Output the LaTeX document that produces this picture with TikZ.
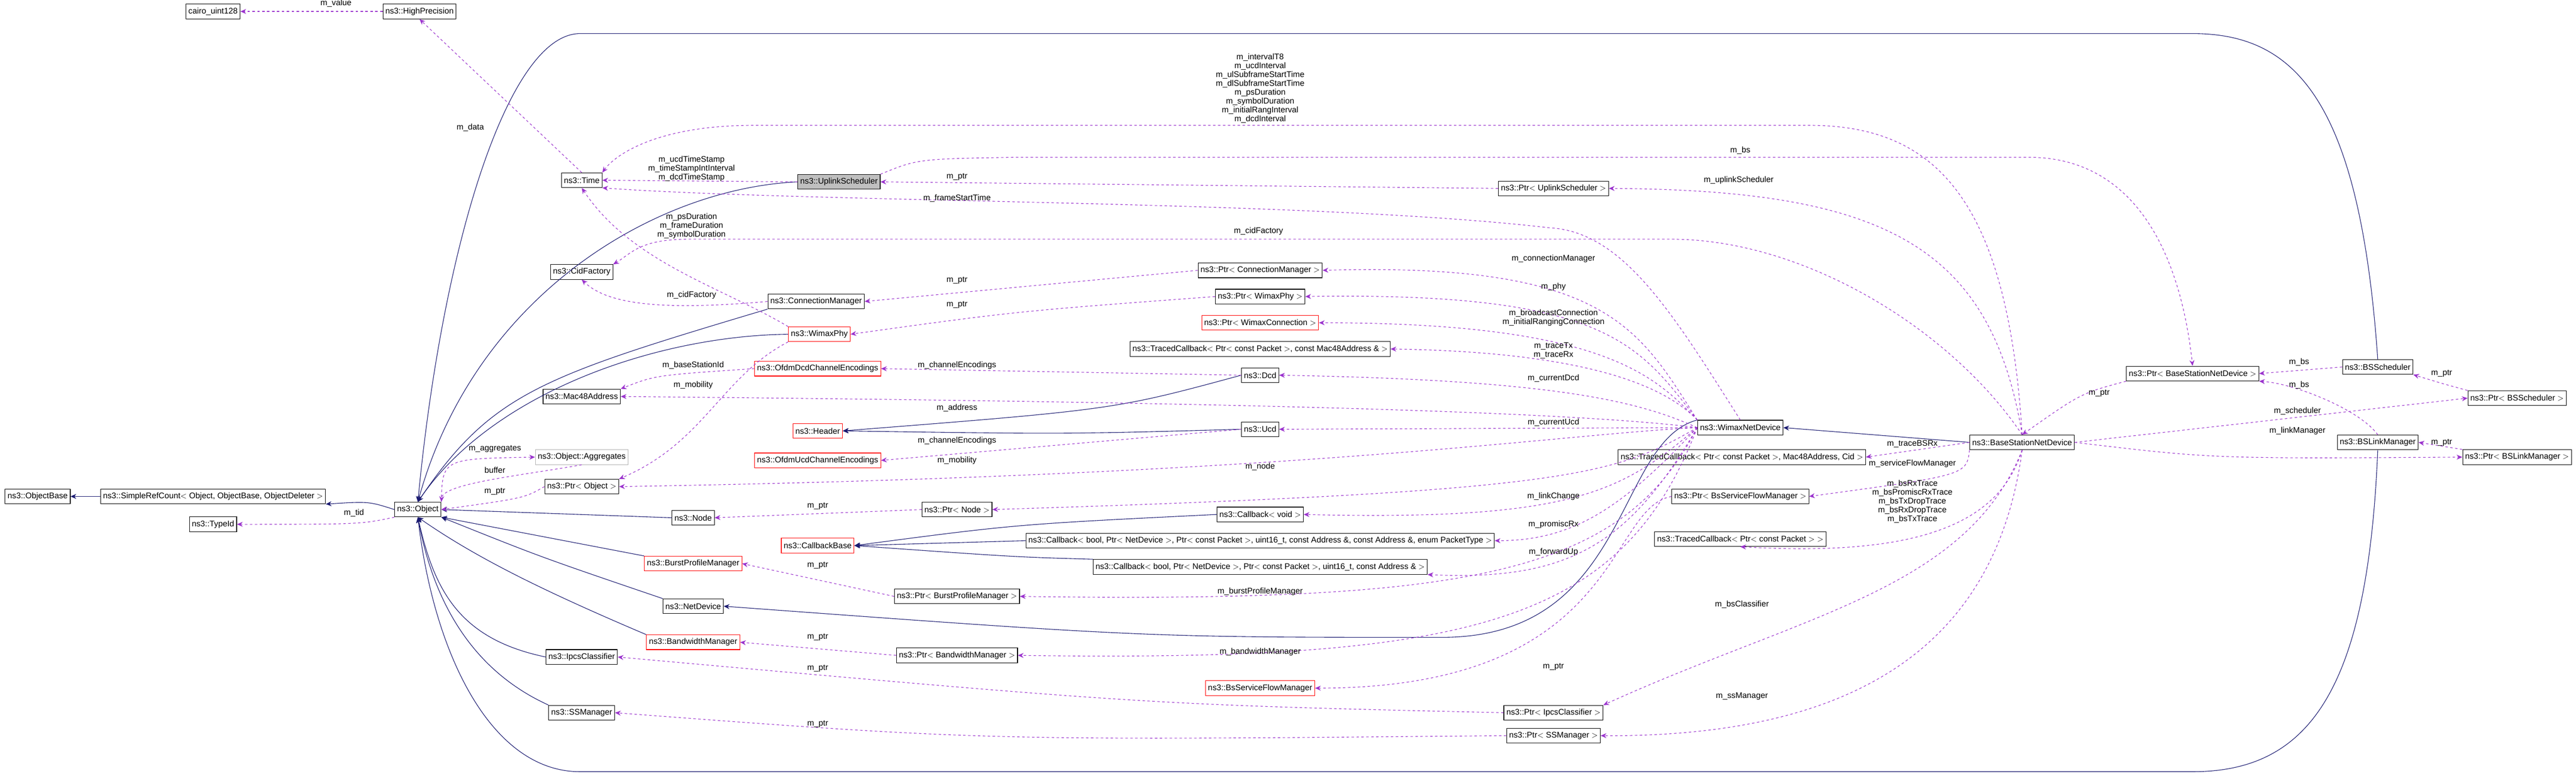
\documentclass[tikz,border=0pt]{standalone}
\usepackage{fontspec}
\setmainfont{Liberation Sans}
\usepackage{tikz}
\usetikzlibrary{arrows.meta}

\definecolor{usecol}{HTML}{9A32CD}
\definecolor{inhcol}{HTML}{191970}

\begin{document}
\begin{tikzpicture}[
    x=2pt, y=-2pt,
    cls/.style={rectangle, draw=black, fill=white, line width=0.7pt, inner xsep=3pt, inner ysep=1pt, minimum height=18pt, font=\fontsize{10}{11}\selectfont},
    clsred/.style={cls, draw=red},
    clsgray/.style={cls, draw=black!30},
    clsmain/.style={cls, fill=black!25},
    lbl/.style={font=\fontsize{10}{10.8}\selectfont, text=black, align=center, inner sep=1pt},
    use/.style={-{Stealth[length=7pt,width=6pt]}, usecol, dashed, line width=0.7pt},
    inh/.style={-{Stealth[length=7pt,width=6pt]}, inhcol, line width=0.7pt}
]
\useasboundingbox (0,0) rectangle (1572,473.6);

% Classes, left part
\node[cls] (cairo) at (130,7) {cairo\_uint128};
\node[cls] (hiprec) at (256,7) {ns3::HighPrecision};
\node[cls] (time) at (355,110) {ns3::Time};
\node[clsmain] (upsched) at (512,111) {ns3::UplinkScheduler};
\node[cls] (cidfac) at (355,166) {ns3::CidFactory};
\node[cls] (connmgr) at (498,184) {ns3::ConnectionManager};
\node[clsred] (wphy) at (500,204) {ns3::WimaxPhy};
\node[clsred] (dcdenc) at (499,225) {ns3::OfdmDcdChannelEncodings};
\node[cls] (mac48) at (355,242) {ns3::Mac48Address};
\node[clsred] (header) at (499,263) {ns3::Header};
\node[clsred] (ucdenc) at (499,281) {ns3::OfdmUcdChannelEncodings};
\node[clsgray] (aggr) at (355,279) {ns3::Object::Aggregates};
\node[cls] (pobj) at (355,297) {ns3::Ptr$<$ Object $>$};
\node[cls] (object) at (255,311) {ns3::Object};
\node[cls] (srcount) at (130,303) {ns3::SimpleRefCount$<$ Object, ObjectBase, ObjectDeleter $>$};
\node[cls] (objbase) at (23,303) {ns3::ObjectBase};
\node[cls] (typeid) at (130,320) {ns3::TypeId};
\node[cls] (node) at (423,316) {ns3::Node};
\node[clsred] (cbbase) at (499,333) {ns3::CallbackBase};
\node[clsred] (bpmgr) at (423,344) {ns3::BurstProfileManager};
\node[cls] (netdev) at (423,370) {ns3::NetDevice};
\node[clsred] (bwmgr) at (423,392) {ns3::BandwidthManager};
\node[cls] (ipcs) at (355,401) {ns3::IpcsClassifier};
\node[cls] (ssmgr) at (355,435) {ns3::SSManager};

% Classes, middle part
\node[cls] (pupsched) at (948,115) {ns3::Ptr$<$ UplinkScheduler $>$};
\node[cls] (pconnmgr) at (769,165) {ns3::Ptr$<$ ConnectionManager $>$};
\node[cls] (pwphy) at (769,181) {ns3::Ptr$<$ WimaxPhy $>$};
\node[clsred] (pwconn) at (769,197) {ns3::Ptr$<$ WimaxConnection $>$};
\node[cls] (tcbmac) at (769,213) {ns3::TracedCallback$<$ Ptr$<$ const Packet $>$, const Mac48Address \& $>$};
\node[cls] (dcd) at (769,229) {ns3::Dcd};
\node[cls] (ucd) at (769,262) {ns3::Ucd};
\node[cls] (pnode) at (584,311) {ns3::Ptr$<$ Node $>$};
\node[cls] (cbvoid) at (769,314) {ns3::Callback$<$ void $>$};
\node[cls] (cbpt) at (769,330) {ns3::Callback$<$ bool, Ptr$<$ NetDevice $>$, Ptr$<$ const Packet $>$, uint16\_t, const Address \&, const Address \&, enum PacketType $>$};
\node[cls] (cbaddr) at (769,346) {ns3::Callback$<$ bool, Ptr$<$ NetDevice $>$, Ptr$<$ const Packet $>$, uint16\_t, const Address \& $>$};
\node[cls] (pbpmgr) at (584,364) {ns3::Ptr$<$ BurstProfileManager $>$};
\node[cls] (pbwmgr) at (584,400) {ns3::Ptr$<$ BandwidthManager $>$};
\node[clsred] (bssfm) at (769,420) {ns3::BsServiceFlowManager};
\node[cls] (pipcs) at (948,435) {ns3::Ptr$<$ IpcsClassifier $>$};
\node[cls] (pssmgr) at (948,449) {ns3::Ptr$<$ SSManager $>$};

% Classes, right part
\node[cls] (wnd) at (1062,261) {ns3::WimaxNetDevice};
\node[cls] (tcbcid) at (1063,279) {ns3::TracedCallback$<$ Ptr$<$ const Packet $>$, Mac48Address, Cid $>$};
\node[cls] (pbssfm) at (1062,303) {ns3::Ptr$<$ BsServiceFlowManager $>$};
\node[cls] (tcbpkt) at (1062,329) {ns3::TracedCallback$<$ Ptr$<$ const Packet $>$ $>$};
\node[cls] (bsnd) at (1234,270) {ns3::BaseStationNetDevice};
\node[cls] (pbsnd) at (1338,228) {ns3::Ptr$<$ BaseStationNetDevice $>$};
\node[cls] (bssched) at (1451,224) {ns3::BSScheduler};
\node[cls] (pbssched) at (1536,243) {ns3::Ptr$<$ BSScheduler $>$};
\node[cls] (bslink) at (1451,270) {ns3::BSLinkManager};
\node[cls] (pbslink) at (1536,279) {ns3::Ptr$<$ BSLinkManager $>$};

% Inheritance
\draw[inh] (srcount) -- (objbase);
\draw[inh] (object.west) .. controls (225,306) .. (srcount.south east);
\draw[inh] (upsched.west) .. controls (400,115) and (290,180) .. (object.north);
\draw[inh] (connmgr.south west) .. controls (330,230) and (300,240) .. (object.north);
\draw[inh] (wphy.west) .. controls (400,205) and (300,240) .. (object.north);
\draw[inh] (node.west) -- (object.east);
\draw[inh] (bpmgr.north west) -- (object.south east);
\draw[inh] (netdev.north west) .. controls (330,340) .. (object.south east);
\draw[inh] (bwmgr.north west) .. controls (330,360) and (290,340) .. (object.south);
\draw[inh] (ipcs.west) .. controls (280,390) and (265,360) .. (object.south);
\draw[inh] (ssmgr.north west) .. controls (290,410) and (265,370) .. (object.south);
\draw[inh] (bssched.north) .. controls (1440,60) and (1400,20.5) .. (1338,20.5) -- (354,20.5) .. controls (310,20.5) and (270,150) .. (object.north);
\draw[inh] (bslink.south) .. controls (1445,420) and (1410,471) .. (1338,471) -- (354,471) .. controls (300,471) and (265,400) .. (object.south);
\draw[inh] (dcd.west) .. controls (680,250) .. (header.east);
\draw[inh] (ucd.west) .. controls (650,265) .. (header.east);
\draw[inh] (cbvoid.west) .. controls (620,320) .. (cbbase.east);
\draw[inh] (cbpt.west) -- (cbbase.east);
\draw[inh] (cbaddr.north west) .. controls (620,340) .. (cbbase.east);
\draw[inh] (wnd.north west) .. controls (985,270) and (995,389) .. (880,389) .. controls (700,389) .. (netdev.east);
\draw[inh] (bsnd.west) -- (wnd.east);

% Members
\draw[use] (hiprec) -- (cairo);
\node[lbl] at (205,2) {m\_value};
\draw[use] (time.north) -- (hiprec.south);
\node[lbl] at (287,78) {m\_data};
\draw[use] (upsched.west) -- (time.east);
\node[lbl] at (422,103) {m\_ucdTimeStamp\\m\_timeStampIntInterval\\m\_dcdTimeStamp};
\draw[use] (bsnd.north) .. controls (1225,120) and (1180,76.5) .. (1104,76.5) -- (460,76.5) .. controls (400,76.5) and (375,95) .. (time.north east);
\node[lbl] at (769,54) {m\_intervalT8\\m\_ucdInterval\\m\_ulSubframeStartTime\\m\_dlSubframeStartTime\\m\_psDuration\\m\_symbolDuration\\m\_initialRangInterval\\m\_dcdInterval};
\draw[use] (wnd.north) .. controls (1020,190) and (990,141) .. (945,139) .. controls (800,122) and (500,124) .. (time.south east);
\node[lbl] at (584,121) {m\_frameStartTime};
\draw[use] (wphy.north west) .. controls (440,175) and (385,160) .. (time.south);
\node[lbl] at (422,138) {m\_psDuration\\m\_frameDuration\\m\_symbolDuration};
\draw[use] (upsched.north east) .. controls (560,97) .. (620,96) -- (1238,96) .. controls (1300,96) and (1330,150) .. (pbsnd.north);
\node[lbl] at (1062,92) {m\_bs};
\draw[use] (pupsched.west) -- (upsched.east);
\node[lbl] at (584,108) {m\_ptr};
\draw[use] (bsnd.north) .. controls (1215,150) and (1150,116) .. (pupsched.east);
\node[lbl] at (1061,110) {m\_uplinkScheduler};
\draw[use] (bsnd.north) .. controls (1190,200) and (1100,146) .. (1020,146) -- (420,146) .. controls (390,146) and (385,155) .. (cidfac.north east);
\node[lbl] at (768,141) {m\_cidFactory};
\draw[use] (connmgr.west) .. controls (400,190) and (370,185) .. (cidfac.south);
\node[lbl] at (422,180) {m\_cidFactory};
\draw[use] (pconnmgr.west) -- (connmgr.east);
\node[lbl] at (584,171) {m\_ptr};
\draw[use] (wnd.north west) .. controls (1000,200) and (980,160) .. (pconnmgr.east);
\node[lbl] at (948,158) {m\_connectionManager};
\draw[use] (pwphy.west) .. controls (620,190) .. (wphy.east);
\node[lbl] at (584,186) {m\_ptr};
\draw[use] (wnd.north west) .. controls (1000,210) and (980,178) .. (pwphy.east);
\node[lbl] at (948,175) {m\_phy};
\draw[use] (wnd.north west) .. controls (1010,230) and (980,197) .. (pwconn.east);
\node[lbl] at (948,194) {m\_broadcastConnection\\m\_initialRangingConnection};
\draw[use] (wnd.north west) .. controls (1020,240) and (980,215) .. (tcbmac.east);
\node[lbl] at (948,214) {m\_traceTx\\m\_traceRx};
\draw[use] (wnd.west) .. controls (1000,245) and (950,232) .. (dcd.east);
\node[lbl] at (948,231) {m\_currentDcd};
\draw[use] (dcd.west) -- (dcdenc.east);
\node[lbl] at (584,223) {m\_channelEncodings};
\draw[use] (dcdenc.west) .. controls (400,229) .. (mac48.north east);
\node[lbl] at (423,223) {m\_baseStationId};
\draw[use] (wnd.west) .. controls (950,250) and (700,245) .. (mac48.east);
\node[lbl] at (584,249) {m\_address};
\draw[use] (wnd.west) -- (ucd.east);
\node[lbl] at (948,258) {m\_currentUcd};
\draw[use] (ucd.west) -- (ucdenc.east);
\node[lbl] at (584,269) {m\_channelEncodings};
\draw[use] (wphy.south west) .. controls (440,230) and (430,270) .. (pobj.north east);
\node[lbl] at (423,235) {m\_mobility};
\draw[use] (wnd.west) .. controls (950,265) and (800,290) .. (pobj.east);
\node[lbl] at (584,281) {m\_mobility};
\draw[use] (wnd.west) .. controls (985,290) and (960,300) .. (pnode.east);
\node[lbl] at (769,285) {m\_node};
\draw[use] (pnode.west) -- (node.east);
\node[lbl] at (499,309) {m\_ptr};
\draw[use] (object.north east) .. controls (270,280) .. (aggr.west);
\node[lbl] at (302,274) {m\_aggregates};
\draw[use] (aggr.south) .. controls (320,290) and (270,295) .. (object.north east);
\node[lbl] at (302,287) {buffer};
\draw[use] (pobj.west) .. controls (320,304) .. (object.east);
\node[lbl] at (302,300) {m\_ptr};
\draw[use] (object.south west) .. controls (220,320) .. (typeid.east);
\node[lbl] at (216,313) {m\_tid};
\draw[use] (wnd.west) .. controls (990,300) and (960,318) .. (cbvoid.east);
\node[lbl] at (948,303) {m\_linkChange};
\draw[use] (wnd.west) .. controls (990,310) and (960,330) .. (cbpt.east);
\node[lbl] at (948,320) {m\_promiscRx};
\draw[use] (wnd.west) .. controls (995,330) and (960,355) .. (cbaddr.south east);
\node[lbl] at (948,337) {m\_forwardUp};
\draw[use] (wnd.west) .. controls (990,350) and (900,368) .. (pbpmgr.east);
\node[lbl] at (769,361) {m\_burstProfileManager};
\draw[use] (pbpmgr.west) -- (bpmgr.east);
\node[lbl] at (499,345) {m\_ptr};
\draw[use] (wnd.west) .. controls (990,380) and (900,404) .. (pbwmgr.east);
\node[lbl] at (769,398) {m\_bandwidthManager};
\draw[use] (pbwmgr.west) -- (bwmgr.east);
\node[lbl] at (499,389) {m\_ptr};
\draw[use] (pbssfm.west) .. controls (980,310) and (990,420) .. (bssfm.east);
\node[lbl] at (948,407) {m\_ptr};
\draw[use] (pipcs.west) .. controls (700,430) .. (ipcs.east);
\node[lbl] at (499,408) {m\_ptr};
\draw[use] (pssmgr.west) .. controls (600,452) .. (ssmgr.east);
\node[lbl] at (499,442) {m\_ptr};

% Base station members
\draw[use] (bsnd.west) -- (tcbcid.east);
\node[lbl] at (1167,271) {m\_traceBSRx};
\draw[use] (bsnd.south west) .. controls (1200,290) .. (pbssfm.east);
\node[lbl] at (1167,283) {m\_serviceFlowManager};
\draw[use] (bsnd.south) .. controls (1220,320) and (1170,340) .. (tcbpkt.south);
\node[lbl] at (1167,306) {m\_bsRxTrace\\m\_bsPromiscRxTrace\\m\_bsTxDropTrace\\m\_bsRxDropTrace\\m\_bsTxTrace};
\draw[use] (bsnd.south) .. controls (1200,360) and (1100,375) .. (pipcs.north east);
\node[lbl] at (1063,369) {m\_bsClassifier};
\draw[use] (bsnd.south) .. controls (1220,380) and (1150,450) .. (pssmgr.east);
\node[lbl] at (1063,425) {m\_ssManager};
\draw[use] (pbsnd.south west) .. controls (1270,240) .. (bsnd.north);
\node[lbl] at (1281,240) {m\_ptr};
\draw[use] (bssched.west) -- (pbsnd.east);
\node[lbl] at (1403,221) {m\_bs};
\draw[use] (bslink.north) .. controls (1440,250) and (1400,234) .. (pbsnd.south east);
\node[lbl] at (1403,235) {m\_bs};
\draw[use] (bsnd.east) -- (pbssched.west);
\node[lbl] at (1402,251) {m\_scheduler};
\draw[use] (pbssched.north west) .. controls (1490,234) .. (bssched.south east);
\node[lbl] at (1490,228) {m\_ptr};
\draw[use] (bsnd.east) .. controls (1350,280) .. (pbslink.west);
\node[lbl] at (1402,263) {m\_linkManager};
\draw[use] (pbslink.north west) -- (bslink.east);
\node[lbl] at (1490,270) {m\_ptr};

\end{tikzpicture}
\end{document}
